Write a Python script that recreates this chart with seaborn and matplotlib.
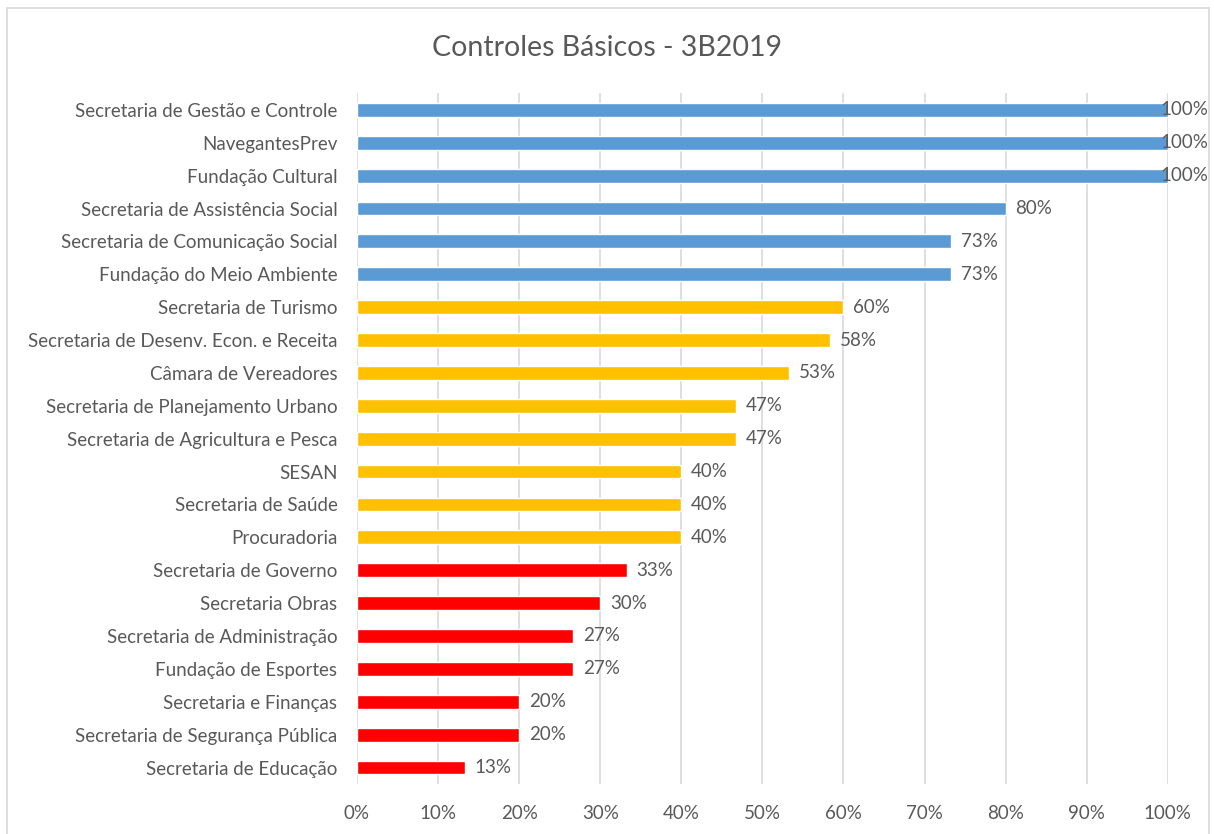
import matplotlib.pyplot as plt
import seaborn as sns
import pandas as pd
from matplotlib.patches import Rectangle
from matplotlib.ticker import PercentFormatter

# Controles Básicos - 3B2019, share of controls per secretaria
secretarias = [
    'Secretaria de Gestão e Controle', 'NavegantesPrev', 'Fundação Cultural',
    'Secretaria de Assistência Social', 'Secretaria de Comunicação Social',
    'Fundação do Meio Ambiente', 'Secretaria de Turismo',
    'Secretaria de Desenv. Econ. e Receita', 'Câmara de Vereadores',
    'Secretaria de Planejamento Urbano', 'Secretaria de Agricultura e Pesca',
    'SESAN', 'Secretaria de Saúde', 'Procuradoria', 'Secretaria de Governo',
    'Secretaria Obras', 'Secretaria de Administração', 'Fundação de Esportes',
    'Secretaria e Finanças', 'Secretaria de Segurança Pública',
    'Secretaria de Educação',
]
percentuais = [100, 100, 100, 80, 73.3, 73.3, 60, 58.3, 53.3, 46.7, 46.7,
               40, 40, 40, 33.3, 30, 26.7, 26.7, 20, 20, 13.3]
faixa = ['alto'] * 6 + ['medio'] * 8 + ['baixo'] * 7
cores = {'alto': '#5B9BD5', 'medio': '#FFC000', 'baixo': '#FF0000'}

df = pd.DataFrame({'secretaria': secretarias, 'pct': percentuais, 'faixa': faixa})

sns.set_style('white')
plt.rcParams['font.family'] = ['Lato', 'DejaVu Sans']
texto = '#595959'

fig = plt.figure(figsize=(12.14, 8.34), dpi=100)
ax = fig.add_axes([0.294, 0.060, 0.668, 0.828])

sns.barplot(data=df, x='pct', y='secretaria', hue='faixa', palette=cores,
            dodge=False, width=0.42, saturation=1, legend=False, ax=ax)

# labels: the 100% ones sit over the bar end, the rest just after it
for cont in ax.containers:
    vals = cont.datavalues
    ax.bar_label(cont, labels=[f'{v:.0f}%' if v < 100 else '' for v in vals],
                 padding=7, fontsize=13.5, color=texto)
    ax.bar_label(cont, labels=[f'{v:.0f}%' if v >= 100 else '' for v in vals],
                 padding=-5, fontsize=13.5, color=texto)

ax.set_xlim(0, 100)
ax.set_xticks(range(0, 101, 10))
ax.xaxis.set_major_formatter(PercentFormatter(decimals=0))
ax.grid(axis='x', color='#D9D9D9', linewidth=1.2)
ax.set_axisbelow(True)
sns.despine(ax=ax, left=True, bottom=True)
ax.set_xlabel('')
ax.set_ylabel('')
ax.tick_params(axis='both', length=0, labelsize=13.5, labelcolor=texto)
ax.tick_params(axis='x', pad=15)
ax.tick_params(axis='y', pad=14)

fig.suptitle('Controles Básicos - 3B2019', y=0.958, fontsize=20.5, color=texto)
fig.patches.append(Rectangle((0.006, -0.01), 0.99, 1.0, transform=fig.transFigure,
                             fill=False, edgecolor='#D9D9D9', linewidth=1.2))

plt.savefig('out.png', dpi=100)
